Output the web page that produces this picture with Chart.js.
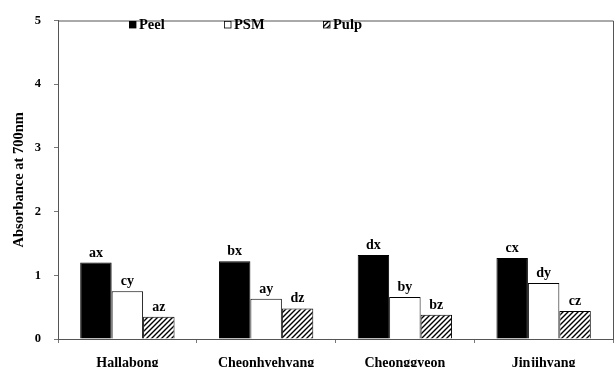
<!DOCTYPE html>
<html><head><meta charset="utf-8">
<script src="https://cdn.jsdelivr.net/npm/chart.js@4/dist/chart.umd.min.js"></script>
<style>html,body{margin:0;padding:0;background:#fff}#wrap{width:616px;height:367px}</style>
</head><body><div id="wrap"><canvas id="c" width="616" height="367"></canvas></div>
<script>
const categories = ["Hallabong", "Cheonhyehyang", "Cheonggyeon", "Jinjihyang"];
const peel = [1.20, 1.22, 1.32, 1.27];
const psm = [0.75, 0.63, 0.66, 0.88];
const pulp = [0.35, 0.48, 0.38, 0.44];
const peelLetters = ["ax", "bx", "dx", "cx"];
const psmLetters = ["cy", "ay", "by", "dy"];
const pulpLetters = ["az", "dz", "bz", "cz"];
const yTicks = [0, 1, 2, 3, 4, 5];

const FONT = "'Liberation Serif','Times New Roman',serif";

function hatch() {
  const s = 5;
  const c = document.createElement('canvas');
  c.width = s; c.height = s;
  const g = c.getContext('2d');
  g.fillStyle = '#fff'; g.fillRect(0, 0, s, s);
  g.strokeStyle = '#000'; g.lineWidth = 1.4;
  g.beginPath();
  g.moveTo(-1, s + 1); g.lineTo(s + 1, -1);
  g.moveTo(-1, 1); g.lineTo(1, -1);
  g.moveTo(s - 1, s + 1); g.lineTo(s + 1, s - 1);
  g.stroke();
  return g.createPattern(c, 'repeat');
}
const hatchPattern = hatch();

const letterSets = [peelLetters, psmLetters, pulpLetters];

const framePlugin = {
  id: 'frame',
  afterDraw(chart) {
    const {ctx, chartArea: a} = chart;
    ctx.save();
    ctx.strokeStyle = '#555';
    ctx.lineWidth = 1;
    ctx.beginPath();
    ctx.moveTo(a.left, a.top + 0.5); ctx.lineTo(a.right + 0.5, a.top + 0.5); ctx.lineTo(a.right + 0.5, a.bottom);
    ctx.stroke();
    // bar letters
    ctx.fillStyle = '#000';
    ctx.font = "bold 14px " + FONT;
    ctx.textAlign = 'center';
    ctx.textBaseline = 'alphabetic';
    chart.data.datasets.forEach((ds, di) => {
      const meta = chart.getDatasetMeta(di);
      meta.data.forEach((bar, i) => {
        ctx.fillText(letterSets[di][i], bar.x, bar.y - 6);
      });
    });
    // legend
    ctx.font = "bold 14.5px " + FONT;
    ctx.textAlign = 'left';
    const legendX = [129, 224, 323];
    chart.data.datasets.forEach((ds, di) => {
      const x = legendX[di], y = 21;
      ctx.fillStyle = ds.backgroundColor;
      ctx.fillRect(x, y, 7, 7);
      ctx.strokeStyle = '#000';
      ctx.lineWidth = 0.8;
      ctx.strokeRect(x + 0.5, y + 0.5, 6.5, 6.5);
      ctx.fillStyle = '#000';
      ctx.fillText(ds.label, x + 10, 29);
    });
    ctx.restore();
  }
};

new Chart(document.getElementById('c'), {
  type: 'bar',
  data: {
    labels: categories,
    datasets: [
      {label: 'Peel', data: peel, backgroundColor: '#000', borderColor: '#000', borderWidth: 1},
      {label: 'PSM', data: psm, backgroundColor: '#fff', borderColor: '#000', borderWidth: 1},
      {label: 'Pulp', data: pulp, backgroundColor: hatchPattern, borderColor: '#000', borderWidth: 1}
    ]
  },
  options: {
    responsive: false,
    animation: false,
    devicePixelRatio: 1,
    layout: {padding: {top: 14, right: 3, left: 0, bottom: 0}},
    plugins: {legend: {display: false}, tooltip: {enabled: false}},
    datasets: {bar: {categoryPercentage: 0.68, barPercentage: 1.0, borderSkipped: 'bottom'}},
    scales: {
      x: {
        afterFit(s) { s.height = 28; },
        grid: {display: true, drawOnChartArea: false, tickLength: 4, color: '#777', offset: true},
        border: {display: true, color: '#555', width: 1},
        ticks: {color: '#000', font: {family: FONT, size: 14, weight: 'bold'}, padding: 12, maxRotation: 0}
      },
      y: {
        min: 0, max: 5,
        afterFit(s) { s.width = 58; },
        afterBuildTicks(s) { s.ticks = yTicks.map(v => ({value: v})); },
        grid: {display: true, drawOnChartArea: false, tickLength: 4, color: '#777'},
        border: {display: true, color: '#555', width: 1},
        ticks: {color: '#000', font: {family: FONT, size: 12.5, weight: 'bold'}, padding: 13},
        title: {display: true, text: 'Absorbance at 700nm', color: '#000', font: {family: FONT, size: 14.5, weight: 'bold'}, padding: {top: 11, bottom: 0}}
      }
    }
  },
  plugins: [framePlugin]
});
</script></body></html>
